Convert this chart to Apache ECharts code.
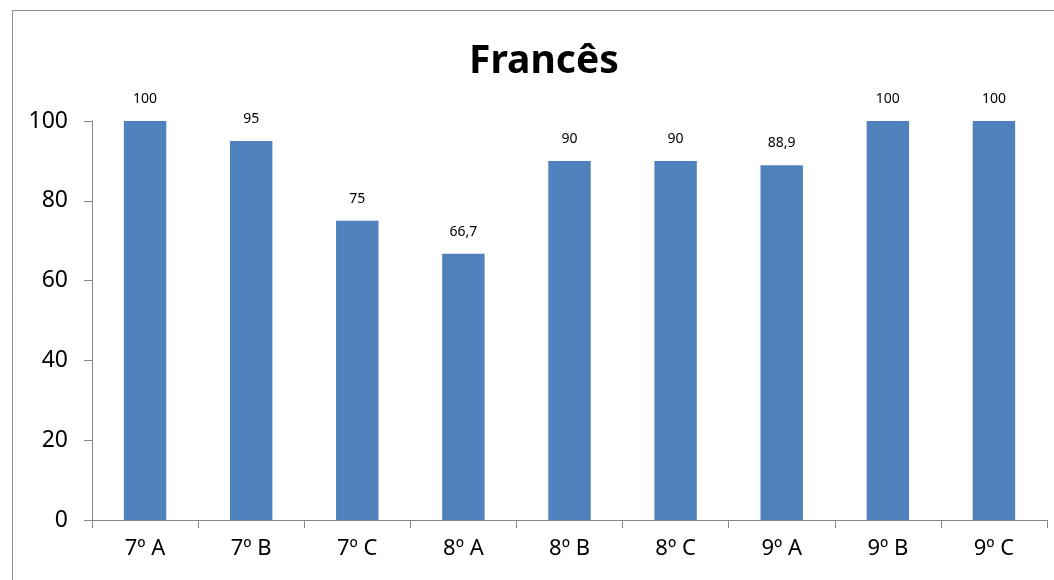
<!DOCTYPE html>
<html><head><meta charset="utf-8">
<script src="https://cdn.jsdelivr.net/npm/echarts@6/dist/echarts.min.js"></script>
<style>html,body{margin:0;padding:0;background:#fff}#c{width:1054px;height:580px}</style>
</head><body><div id="c"></div>
<script>
const categories = ['7º A','7º B','7º C','8º A','8º B','8º C','9º A','9º B','9º C'];
const values = [100, 95, 75, 66.7, 90, 90, 88.9, 100, 100];
const yTicks = [0, 20, 40, 60, 80, 100];
const titleText = 'Francês';

const chart = echarts.init(document.getElementById('c'));
const font = '"Noto Sans", "Open Sans", sans-serif';
chart.setOption({
  animation: false,
  backgroundColor: '#fff',
  graphic: [{
    type: 'rect', left: 10, top: 8, shape: {x: 0, y: 0, width: 1200, height: 700},
    style: {fill: 'none', stroke: '#8c8c8c', lineWidth: 1}, silent: true
  }],
  title: {
    text: titleText, left: 464, top: 37,
    textStyle: {fontFamily: font, fontWeight: 'bold', fontSize: 39, color: '#000'}
  },
  grid: {left: 92, right: 7, top: 121, bottom: 60, containLabel: false},
  xAxis: {
    type: 'category', data: categories,
    axisLine: {lineStyle: {color: '#868686', width: 1}},
    axisTick: {show: true, alignWithLabel: false, length: 8, lineStyle: {color: '#868686'}},
    axisLabel: {fontFamily: font, fontSize: 22, color: '#000', margin: 18}
  },
  yAxis: {
    type: 'value', min: 0, max: 100, interval: 20,
    splitLine: {show: false},
    axisLine: {show: true, lineStyle: {color: '#868686', width: 1}},
    axisTick: {show: true, length: 8, lineStyle: {color: '#868686'}},
    axisLabel: {fontFamily: font, fontSize: 23, color: '#000', margin: 24,
      formatter: v => yTicks.includes(v) ? String(v) : ''}
  },
  series: [{
    type: 'bar', data: values, barWidth: '40%',
    itemStyle: {color: '#4F81BD'},
    label: {show: true, position: 'top', distance: 15, fontFamily: font, fontSize: 14, color: '#000',
      formatter: p => String(p.value).replace('.', ',')}
  }]
});
</script></body></html>
